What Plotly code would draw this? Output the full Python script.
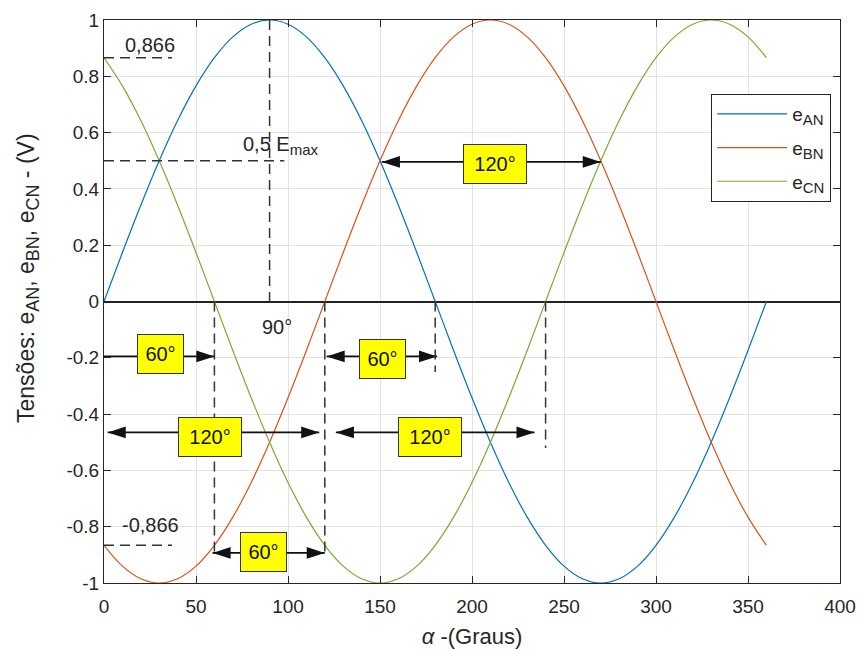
import plotly.graph_objects as go

# ---- data ----
alpha = [0, 10, 20, 30, 40, 50, 60, 70, 80, 90, 100, 110, 120, 130, 140, 150, 160, 170, 180,
         190, 200, 210, 220, 230, 240, 250, 260, 270, 280, 290, 300, 310, 320, 330, 340, 350, 360]
e_AN = [0, .174, .342, .5, .643, .766, .866, .940, .985, 1, .985, .940, .866, .766, .643, .5, .342, .174, 0,
        -.174, -.342, -.5, -.643, -.766, -.866, -.940, -.985, -1, -.985, -.940, -.866, -.766, -.643, -.5, -.342, -.174, 0]
e_BN = [-.866, -.940, -.985, -1, -.985, -.940, -.866, -.766, -.643, -.5, -.342, -.174, 0, .174, .342, .5, .643, .766, .866,
        .940, .985, 1, .985, .940, .866, .766, .643, .5, .342, .174, 0, -.174, -.342, -.5, -.643, -.766, -.866]
e_CN = [.866, .766, .643, .5, .342, .174, 0, -.174, -.342, -.5, -.643, -.766, -.866, -.940, -.985, -1, -.985, -.940, -.866,
        -.766, -.643, -.5, -.342, -.174, 0, .174, .342, .5, .643, .766, .866, .940, .985, 1, .985, .940, .866]
series_subs = ["AN", "BN", "CN"]
x_ticks = [0, 50, 100, 150, 200, 250, 300, 350, 400]
y_ticks = [-1, -0.8, -0.6, -0.4, -0.2, 0, 0.2, 0.4, 0.6, 0.8, 1]
y_tick_labels = ["-1", "-0.8", "-0.6", "-0.4", "-0.2", "0", "0.2", "0.4", "0.6", "0.8", "1"]

colors = ["#0072BD", "#D95319", "#77AC30"]
FONT = "Liberation Sans, Arial, sans-serif"
TXT = "#262626"
INK = "#111111"


def sub(t, px):
    return "<sub><span style='font-size:%dpx'>%s</span></sub>" % (px, t)


fig = go.Figure()
for ys, s, c in zip([e_AN, e_BN, e_CN], series_subs, colors):
    fig.add_trace(go.Scatter(x=alpha, y=ys, name="e" + sub(s, 15), legendgroup=s, mode="lines",
                             line=dict(color=c, width=1.2, shape="spline")))

# dashed guide lines (x0, y0, x1, y1)
dashed = [
    (0, 0.866, 37, 0.866),
    (0, -0.866, 37, -0.866),
    (0, 0.5, 98, 0.5),
    (90, 1, 90, -0.01),
    (60, 0, 60, -0.9),
    (120, 0, 120, -0.9),
    (180, 0, 180, -0.25),
    (240, 0, 240, -0.52),
]
for x0, y0, x1, y1 in dashed:
    fig.add_shape(type="line", x0=x0, y0=y0, x1=x1, y1=y1, xref="x", yref="y",
                  line=dict(color="#333333", width=1.5, dash="10px,6px"))

# double arrows: (x_left, x_right, y, label, label_x, label_y)
arrows = [
    (-1, 60, -0.195, "60°", 30.5, -0.185),
    (121, 181, -0.195, "60°", 151.5, -0.205),
    (2, 117, -0.465, "120°", 57.5, -0.48),
    (126, 234, -0.465, "120°", 177, -0.48),
    (59, 120, -0.893, "60°", 86.5, -0.89),
    (151, 270, 0.496, "120°", 212.5, 0.49),
]
shaft_x, shaft_y, head_x, head_y, head_ang = [], [], [], [], []
for xl, xr, y, lab, lx, ly in arrows:
    shaft_x += [xl, xr, None]
    shaft_y += [y, y, None]
    head_x += [xl, xr]
    head_y += [y, y]
    head_ang += [-90, 90]
fig.add_trace(go.Scatter(x=shaft_x, y=shaft_y, mode="lines", showlegend=False, hoverinfo="skip",
                         line=dict(color=INK, width=1.6), cliponaxis=False))
fig.add_trace(go.Scatter(x=head_x, y=head_y, mode="markers", showlegend=False, hoverinfo="skip",
                         cliponaxis=False,
                         marker=dict(symbol="arrow", size=19, angle=head_ang, color=INK,
                                     line=dict(width=0))))

for xl, xr, y, lab, lx, ly in arrows:
    fig.add_annotation(x=lx, y=ly, xref="x", yref="y", text=lab, showarrow=False,
                       bgcolor="#ffff00", bordercolor="#333333", borderwidth=1, borderpad=1,
                       width=(43 if len(lab) == 3 else 60), height=36,
                       font=dict(family=FONT, size=20, color=INK))

# plain text labels (x, y, text)
texts = [
    (25, 0.911, "0,866"),
    (25.5, -0.794, "-0,866"),
    (96, 0.555, "0,5 E" + sub("max", 15)),
    (94, -0.09, "90°"),
]
for x, y, t in texts:
    fig.add_annotation(x=x, y=y, xref="x", yref="y", text=t, showarrow=False,
                       font=dict(family=FONT, size=20, color=TXT))

# y-axis title (placed like the reference, slightly above the axis centre)
fig.add_annotation(x=-0.1033, y=0.5417, xref="paper", yref="paper", showarrow=False,
                   textangle=-90, xanchor="center", yanchor="middle",
                   text="Tensões: e" + sub("AN", 18) + ", e" + sub("BN", 18) + ", e" + sub("CN", 18) + " - (V)",
                   font=dict(family=FONT, size=23, color=TXT))

fig.update_layout(
    width=860, height=650,
    margin=dict(l=104, r=20, t=20, b=67),
    paper_bgcolor="white", plot_bgcolor="white",
    font=dict(family=FONT, size=19, color=TXT),
    showlegend=True,
    legend=dict(x=0.825, y=0.8686, xanchor="left", yanchor="top",
                bgcolor="white", bordercolor="#222222", borderwidth=1, tracegroupgap=6,
                font=dict(family=FONT, size=19, color=TXT), itemwidth=70),
    xaxis=dict(range=[0, 400], tickvals=x_ticks, ticks="inside", ticklen=7, tickcolor=TXT,
               showline=True, linecolor=TXT, linewidth=1, mirror="allticks", ticklabelstandoff=6,
               showgrid=True, gridcolor="#e2e2e2", zeroline=False, automargin=False,
               title=dict(text="<i>α</i> -(Graus)", font=dict(family=FONT, size=22, color=TXT), standoff=12),
               tickfont=dict(family=FONT, size=19, color=TXT)),
    yaxis=dict(range=[-1, 1], tickvals=y_ticks, ticktext=y_tick_labels, ticks="inside", ticklen=7,
               tickcolor=TXT, showline=True, linecolor=TXT, linewidth=1, mirror="allticks",
               showgrid=True, gridcolor="#e2e2e2", automargin=False,
               zeroline=True, zerolinecolor="#222222", zerolinewidth=1.6,
               tickfont=dict(family=FONT, size=19, color=TXT)),
)

fig.write_html("out.html", config={"displayModeBar": False},
               post_script="document.body.style.margin='0';")
